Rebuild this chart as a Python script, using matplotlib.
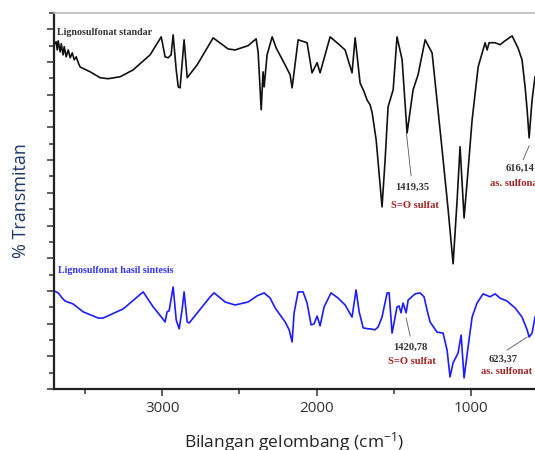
import matplotlib
matplotlib.use("Agg")
import matplotlib.pyplot as plt
from matplotlib.ticker import MultipleLocator

# ---- data (wavenumber cm-1, transmittance arbitrary units) ----
std_wn = [3699, 3686, 3679, 3673, 3660, 3653, 3641, 3634, 3621, 3608, 3595, 3582, 3569, 3556, 3543,
          3531, 3466, 3401, 3349, 3272, 3188, 3078, 3006, 2981, 2961, 2942, 2929, 2909, 2896, 2884,
          2858, 2838, 2774, 2670, 2573, 2528, 2444, 2392, 2379, 2359, 2347, 2340, 2321, 2288, 2262,
          2204, 2172, 2159, 2120, 2062, 2030, 1997, 1978, 1913, 1868, 1816, 1771, 1751, 1719, 1693,
          1674, 1654, 1641, 1615, 1577, 1557, 1538, 1505, 1480, 1447, 1415, 1376, 1344, 1298, 1253,
          1188, 1149, 1117, 1091, 1072, 1046, 1020, 994, 955, 910, 897, 884, 845, 813, 781,
          735, 697, 671, 651, 638, 625, 606, 587]
std_t = [105.3, 106.2, 103.7, 106.5, 103.1, 105.6, 102.2, 104.7, 101.6, 103.7, 101.3, 102.8, 100.7, 101.6, 99.8,
         98.5, 97.0, 95.2, 94.9, 95.5, 97.6, 102.2, 107.7, 101.6, 101.3, 102.2, 108.3, 97.6, 92.4, 92.1,
         106.8, 95.2, 99.1, 107.4, 104.0, 103.7, 105.0, 107.1, 103.1, 85.4, 97.0, 92.4, 102.2, 107.7, 104.3,
         99.1, 96.1, 92.1, 106.8, 105.9, 96.7, 99.8, 96.7, 107.7, 105.9, 103.7, 96.7, 107.4, 93.6, 90.9,
         88.4, 86.9, 84.5, 76.2, 55.7, 70.1, 86.3, 91.5, 107.7, 100.7, 78.3, 91.5, 96.1, 106.8, 102.8,
         73.1, 54.8, 38.3, 57.8, 74.1, 52.3, 67.0, 82.3, 98.5, 105.9, 103.7, 105.9, 105.9, 105.3, 106.5,
         108.0, 104.3, 100.7, 92.4, 85.4, 76.8, 88.4, 95.5]

syn_wn = [3699, 3673, 3647, 3628, 3576, 3511, 3414, 3382, 3252, 3123, 3058, 3000, 2981, 2968, 2955,
          2929, 2909, 2890, 2871, 2858, 2838, 2825, 2689, 2664, 2592, 2528, 2444, 2385, 2340, 2301,
          2269, 2204, 2178, 2159, 2146, 2120, 2088, 2062, 2036, 2017, 1997, 1978, 1952, 1907, 1861,
          1816, 1771, 1745, 1725, 1699, 1667, 1654, 1622, 1602, 1577, 1544, 1531, 1512, 1480, 1467,
          1454, 1441, 1421, 1408, 1363, 1331, 1305, 1286, 1266, 1221, 1182, 1156, 1137, 1117, 1085,
          1065, 1046, 1020, 994, 962, 923, 878, 845, 813, 768, 716, 671, 638, 625, 606, 587]
syn_t = [30.0, 29.4, 27.8, 26.9, 26.0, 23.6, 21.7, 21.7, 24.5, 29.7, 25.1, 21.7, 20.5, 23.6, 23.9,
         31.2, 21.1, 18.4, 24.2, 29.7, 20.5, 20.2, 28.2, 29.4, 26.6, 25.7, 26.6, 28.5, 29.4, 27.8,
         24.8, 20.5, 18.1, 14.4, 23.3, 29.7, 29.7, 26.3, 19.6, 19.9, 22.3, 19.3, 25.1, 29.4, 27.8,
         25.7, 22.0, 30.3, 23.6, 18.7, 18.4, 18.4, 18.1, 19.0, 22.0, 29.4, 29.4, 17.1, 25.1, 25.4,
         23.3, 26.3, 23.3, 27.2, 29.1, 29.4, 28.2, 24.2, 20.5, 17.4, 17.1, 11.9, 3.7, 8.0, 11.0,
         16.5, 3.4, 12.9, 22.0, 26.3, 29.1, 28.2, 29.1, 27.8, 26.9, 24.8, 22.0, 18.1, 15.9, 17.1, 22.0]

series_labels = ["Lignosulfonat standar", "Lignosulfonat hasil sintesis"]
x_ticks = [3000, 2000, 1000]
x_label = "Bilangan gelombang (cm$^{-1}$)"
y_label = "% Transmitan"

# annotations: (peak wn, peak T, number text, name text)
std_notes = [(1419.35, 78.3, "1419,35", "S=O sulfat"), (616.14, 76.8, "616,14", "as. sulfonat")]
syn_notes = [(1420.78, 21.7, "1420,78", "S=O sulfat"), (623.37, 15.9, "623,37", "as. sulfonat")]

plt.rcParams['mathtext.fontset'] = 'custom'
plt.rcParams['mathtext.rm'] = 'Open Sans'
plt.rcParams['mathtext.it'] = 'Open Sans'

fig = plt.figure(figsize=(5.35, 4.5), dpi=100)
ax = fig.add_axes([54/535, 1-389/450, 1-54/535, (389-13)/450])

ax.plot(std_wn, std_t, color="#111111", lw=1.2)
ax.plot(syn_wn, syn_t, color="#1c1cff", lw=1.2)

ax.set_xlim(3700, 587)
ax.set_ylim(0, 115)

ax.set_xticks(x_ticks)
ax.set_xticklabels([str(v) for v in x_ticks], fontsize=11, family="Open Sans", color="#333333")
ax.xaxis.set_minor_locator(MultipleLocator(500))
ax.yaxis.set_major_locator(MultipleLocator(10))
ax.yaxis.set_minor_locator(MultipleLocator(5))
ax.set_yticklabels([])
ax.tick_params(axis='both', which='major', length=5, width=1.1, color="#333333", direction='out')
ax.tick_params(axis='both', which='minor', length=3.5, width=1.1, color="#333333", direction='out')
ax.tick_params(axis='x', pad=4)

for s in ['left', 'bottom']:
    ax.spines[s].set_color('#222222')
    ax.spines[s].set_linewidth(1.6)
ax.spines['top'].set_color('#bbbbbb')
ax.spines['top'].set_linewidth(1.2)
ax.spines['right'].set_visible(False)

ax.set_xlabel(x_label, fontsize=12.5, family="Open Sans", color="#222222", labelpad=10)
ax.set_ylabel(y_label, fontsize=13, family="Open Sans", color="#1f3864", labelpad=9)

ax.text(3679, 108.9, series_labels[0], fontsize=7.2, family="Liberation Serif", weight="bold",
        color="#333333", ha="left", va="center")
ax.text(3673, 36.1, series_labels[1], fontsize=7.2, family="Liberation Serif", weight="bold",
        color="#3333ff", ha="left", va="center")

serif = dict(family="Liberation Serif", weight="bold", fontsize=7.6)
red = "#a02424"
# standard
wn, t, num, name = std_notes[0]
ax.plot([wn, 1389], [t, 65.2], color="#555555", lw=0.6)
ax.text(1382, 61.8, num, ha="center", va="center", color="#333333", **serif)
ax.text(1363, 56.0, name, ha="center", va="center", color=red, **serif)
wn, t, num, name = std_notes[1]
ax.plot([625, 664], [74.4, 70.1], color="#555555", lw=0.6)
ax.text(774, 67.6, num, ha="left", va="center", color="#333333", **serif)
ax.text(878, 63.0, name, ha="left", va="center", color=red, **serif)
# synthesized
wn, t, num, name = syn_notes[0]
ax.plot([1421, 1395], [21.7, 16.2], color="#555555", lw=0.6)
ax.text(1395, 12.9, num, ha="center", va="center", color="#333333", **serif)
ax.text(1382, 8.3, name, ha="center", va="center", color=red, **serif)
wn, t, num, name = syn_notes[1]
ax.plot([638, 768], [15.9, 11.9], color="#555555", lw=0.6)
ax.text(794, 9.2, num, ha="center", va="center", color="#333333", **serif)
ax.text(768, 5.5, name, ha="center", va="center", color=red, **serif)

fig.savefig("out.png", dpi=100)
